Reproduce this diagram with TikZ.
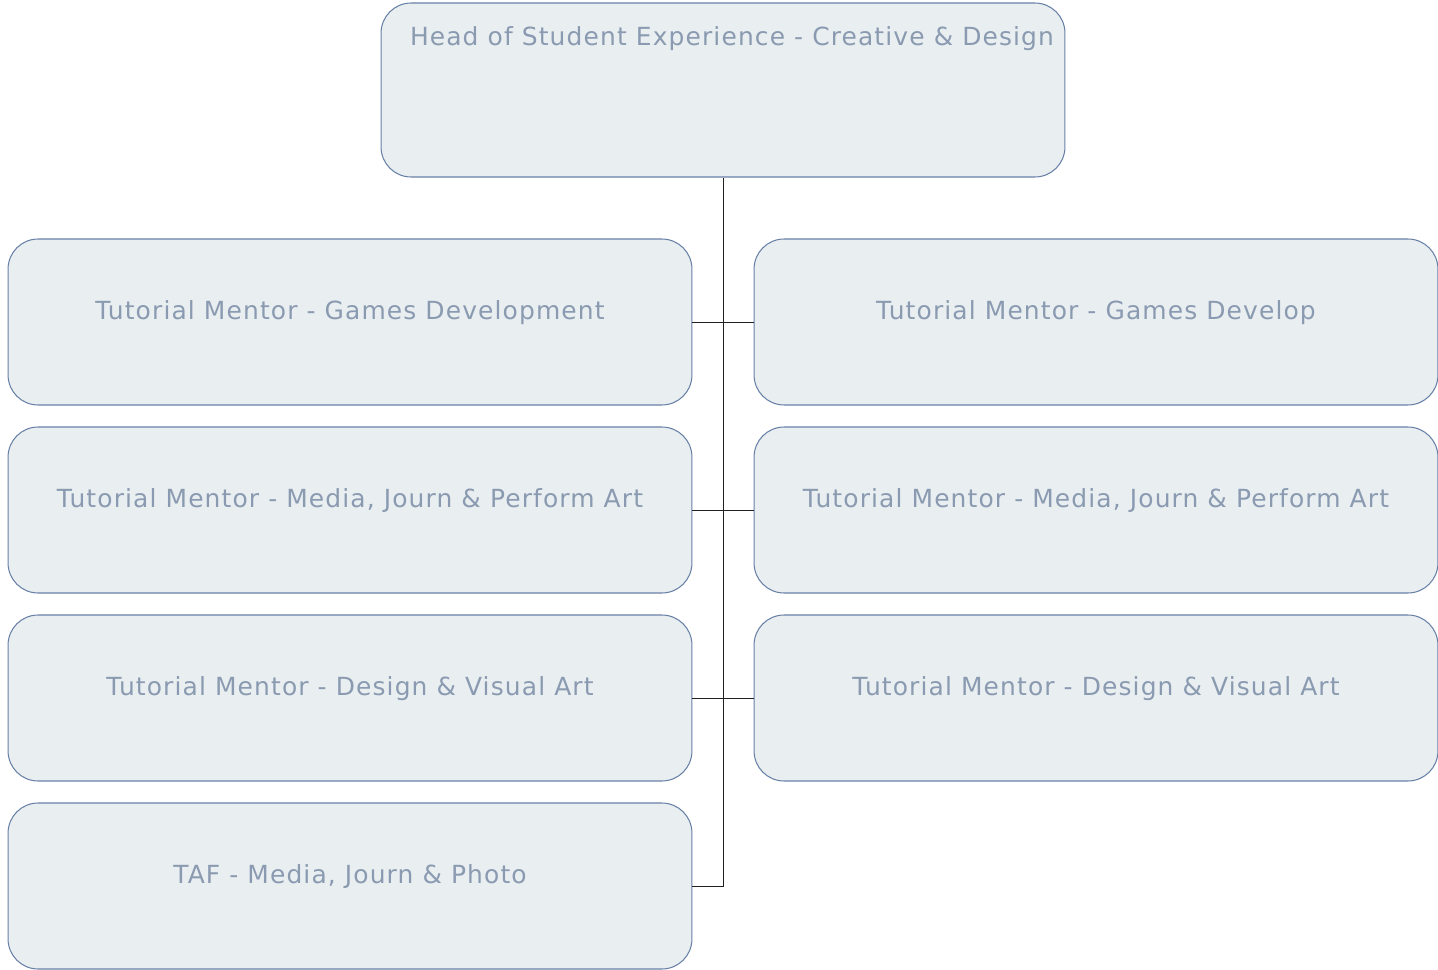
\documentclass[tikz,border=0pt]{standalone}
\usepackage{fontspec}
\setmainfont[LetterSpace=4.5]{DejaVu Sans}
\usepackage{xcolor}
\usetikzlibrary{positioning,calc}

\definecolor{boxfill}{HTML}{E9EEF1}
\definecolor{boxline}{HTML}{6880A6}
\definecolor{boxtext}{HTML}{8A9AB0}
\definecolor{connline}{HTML}{202020}

\begin{document}
\begin{tikzpicture}[
    x=0.02cm, y=-0.02cm,
    role/.style={rectangle, draw=boxline, fill=boxfill, line width=0.6pt,
        rounded corners=0.6cm,
        minimum width=13.68cm, minimum height=3.32cm, inner sep=0pt,
        font=\fontsize{14.2}{16}\selectfont, text=boxtext,
        text height=0.75em, text depth=0.36cm},
    head/.style={role, minimum height=3.48cm, text depth=2.04cm},
    conn/.style={draw=connline, line width=0.5pt}
]
\useasboundingbox (0,0) rectangle (1438,970);

% Head
\node[head] (H) at (723, 90) {\hspace*{0.36cm}Head of Student Experience - Creative \& Design};

% Left column
\node[role] (L1) at (350, 322) {Tutorial Mentor - Games Development};
\node[role] (L2) at (350, 510) {Tutorial Mentor - Media, Journ \& Perform Art};
\node[role] (L3) at (350, 698) {Tutorial Mentor - Design \& Visual Art};
\node[role] (L4) at (350, 886) {TAF - Media, Journ \& Photo};

% Right column
\node[role] (R1) at (1096, 322) {Tutorial Mentor - Games Develop};
\node[role] (R2) at (1096, 510) {Tutorial Mentor - Media, Journ \& Perform Art};
\node[role] (R3) at (1096, 698) {Tutorial Mentor - Design \& Visual Art};

% Connectors
\draw[conn] (H.south) -- (H.south |- L4.east) -- (L4.east);
\draw[conn] (L1.east) -- (R1.west);
\draw[conn] (L2.east) -- (R2.west);
\draw[conn] (L3.east) -- (R3.west);

\end{tikzpicture}
\end{document}
